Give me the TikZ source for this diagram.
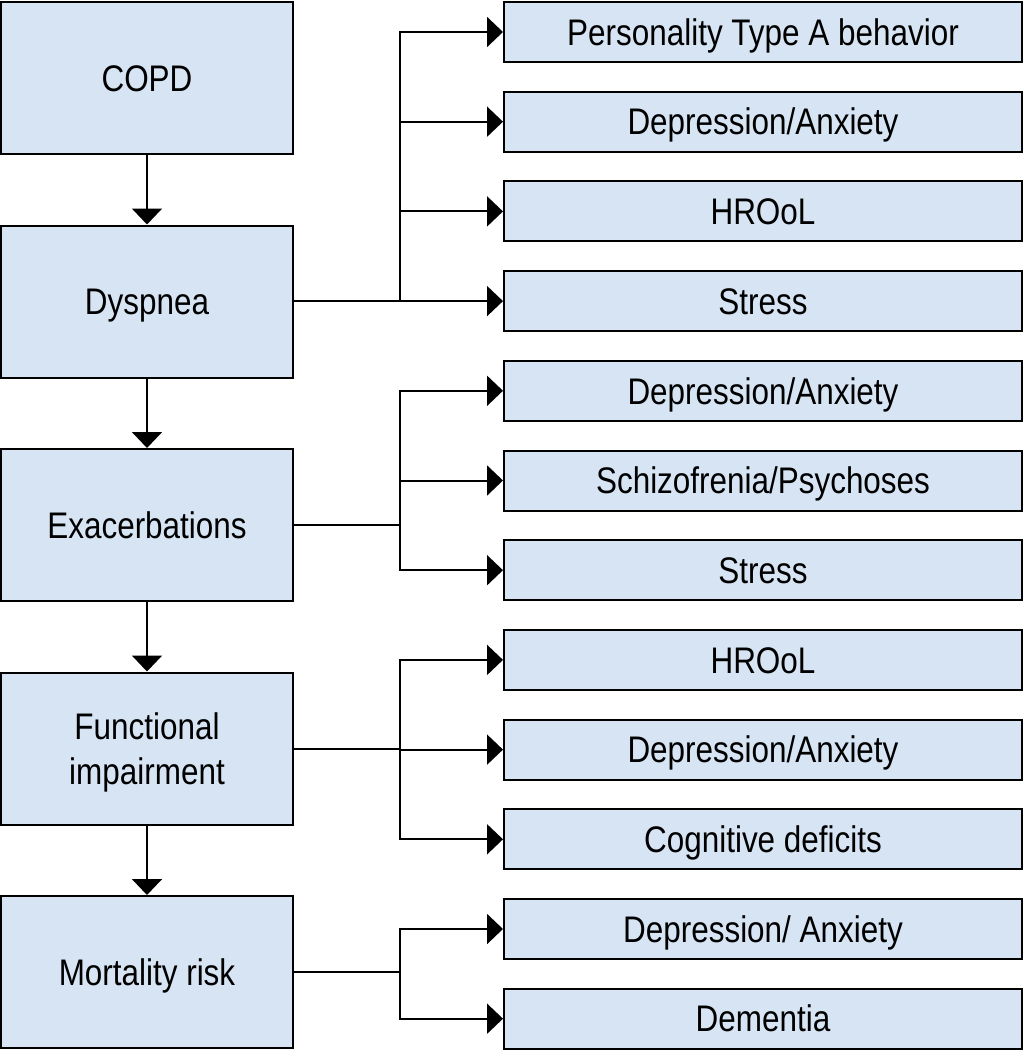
\documentclass[tikz,border=0pt]{standalone}
\usepackage{fontspec}
\setmainfont{Liberation Sans}[FakeStretch=0.85]
\usetikzlibrary{arrows.meta}
\definecolor{boxfill}{RGB}{214,228,243}
\begin{document}
\begin{tikzpicture}[x=1pt,y=-1pt,
  boxbase/.style={draw=black,line width=2pt,fill=boxfill,inner sep=0pt,align=center,font=\fontsize{37}{45}\selectfont,text height=26.5pt,text depth=0pt},
  bigbox/.style={boxbase,minimum width=292pt,minimum height=152pt},
  smallbox/.style={boxbase,minimum width=518pt,minimum height=60pt},
  conn/.style={line width=2pt,-{Triangle[length=16pt,width=30pt]}},
  plain/.style={line width=2pt}]
\useasboundingbox (0,0) rectangle (1024,1051);
% left column
\node[bigbox] (copd) at (147,78) {COPD};
\node[bigbox] (dys) at (147,301.5) {Dyspnea};
\node[bigbox] (exa) at (147,525) {Exacerbations};
\node[bigbox,text height=71.5pt] (fun) at (147,748.5) {Functional\\impairment};
\node[bigbox] (mor) at (147,972) {Mortality risk};
% right column
\node[smallbox] (r1) at (763,32) {Personality Type A behavior};
\node[smallbox] (r2) at (763,121.7) {Depression/Anxiety};
\node[smallbox] (r3) at (763,211.4) {HROoL};
\node[smallbox] (r4) at (763,301.1) {Stress};
\node[smallbox] (r5) at (763,390.8) {Depression/Anxiety};
\node[smallbox] (r6) at (763,480.5) {Schizofrenia/Psychoses};
\node[smallbox] (r7) at (763,570.2) {Stress};
\node[smallbox] (r8) at (763,659.9) {HROoL};
\node[smallbox] (r9) at (763,749.6) {Depression/Anxiety};
\node[smallbox] (r10) at (763,839.3) {Cognitive deficits};
\node[smallbox] (r11) at (763,929) {Depression/ Anxiety};
\node[smallbox] (r12) at (763,1018.7) {Dementia};
% vertical arrows
\draw[conn] (copd.south) -- (dys.north);
\draw[conn] (dys.south) -- (exa.north);
\draw[conn] (exa.south) -- (fun.north);
\draw[conn] (fun.south) -- (mor.north);
% junctions
\coordinate (j1) at (400,301.1);
\coordinate (j2) at (400,525);
\coordinate (j3) at (400,748.5);
\coordinate (j4) at (400,972);
% Dyspnea branch
\draw[conn] (dys.east |- r4.west) -- (r4.west);
\draw[conn] (j1) |- (r1.west);
\draw[conn] (j1) |- (r2.west);
\draw[conn] (j1) |- (r3.west);
% Exacerbations branch
\draw[plain] (exa.east) -- (j2);
\draw[conn] (j2) |- (r5.west);
\draw[conn] (j2) |- (r6.west);
\draw[conn] (j2) |- (r7.west);
% Functional branch
\draw[plain] (fun.east) -- (j3);
\draw[conn] (j3) |- (r8.west);
\draw[conn] (j3) |- (r9.west);
\draw[conn] (j3) |- (r10.west);
% Mortality branch
\draw[plain] (mor.east) -- (j4);
\draw[conn] (j4) |- (r11.west);
\draw[conn] (j4) |- (r12.west);
\end{tikzpicture}
\end{document}
